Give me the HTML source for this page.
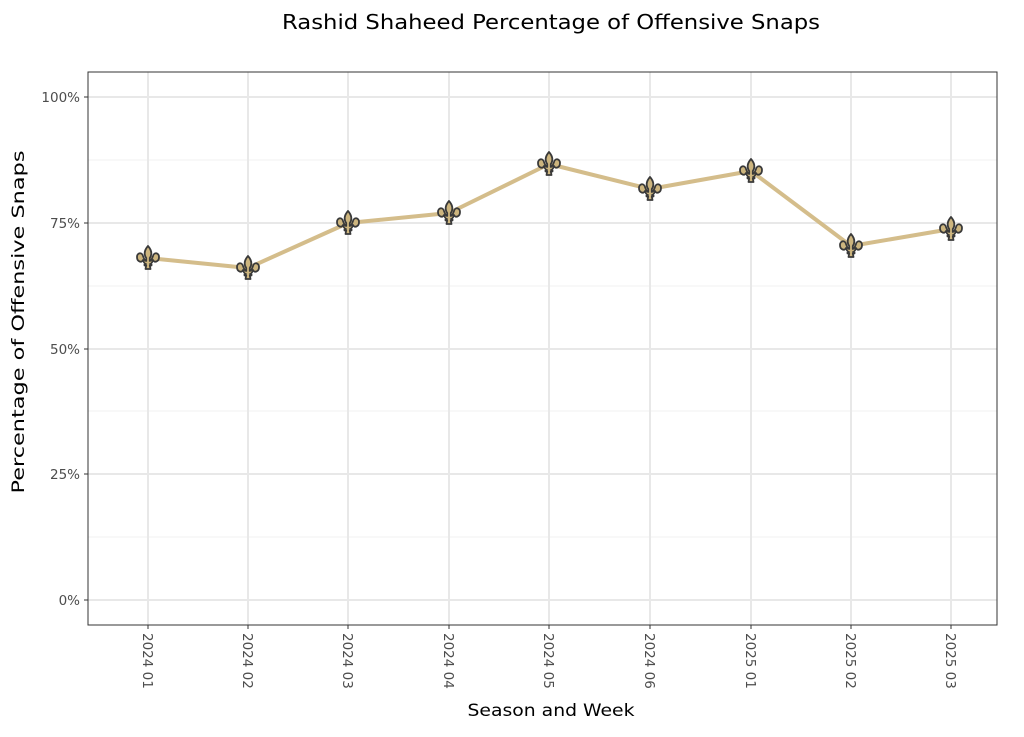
<!DOCTYPE html>
<html><head><meta charset="utf-8"><style>
body{margin:0;background:#fff;}
svg text{font-family:"DejaVu Sans","Liberation Sans",sans-serif;}
</style></head><body>
<svg width="1024" height="732" viewBox="0 0 1024 732" xmlns="http://www.w3.org/2000/svg">
<defs>
<g id="fdl">
<path d="M0,-12 C3.5,-8 4.5,-4 1.8,0 L1.8,3 C3,3 4,1 5,-2 C6,-6 11,-5.5 11,-1 C11,4 6,5 5,2 C4,5 3,6 2,6 L3.5,6 L3.5,7.5 L1.8,7.5 L2.5,11 L-2.5,11 L-1.8,7.5 L-3.5,7.5 L-3.5,6 L-2,6 C-3,6 -4,5 -5,2 C-6,5 -11,4 -11,-1 C-11,-5.5 -6,-6 -5,-2 C-4,1 -3,3 -1.8,3 L-1.8,0 C-4.5,-4 -3.5,-8 0,-12 Z" fill="#cdb57e" stroke="#3a3a3a" stroke-width="1.8" stroke-linejoin="round"/>
</g>
</defs>
<text x="551" y="29" font-size="20" text-anchor="middle" fill="#000" textLength="538" lengthAdjust="spacingAndGlyphs">Rashid Shaheed Percentage of Offensive Snaps</text>
<g stroke="#f0f0f0" stroke-width="1">
<line x1="88" x2="997" y1="160" y2="160"/><line x1="88" x2="997" y1="286" y2="286"/><line x1="88" x2="997" y1="411" y2="411"/><line x1="88" x2="997" y1="537" y2="537"/>
</g>
<g stroke="#e8e8e8" stroke-width="2">
<line x1="88" x2="997" y1="97" y2="97"/><line x1="88" x2="997" y1="223" y2="223"/><line x1="88" x2="997" y1="349" y2="349"/><line x1="88" x2="997" y1="474" y2="474"/><line x1="88" x2="997" y1="600" y2="600"/>
<line x1="148" x2="148" y1="72" y2="625"/><line x1="248" x2="248" y1="72" y2="625"/><line x1="348" x2="348" y1="72" y2="625"/><line x1="449" x2="449" y1="72" y2="625"/><line x1="549" x2="549" y1="72" y2="625"/><line x1="650" x2="650" y1="72" y2="625"/><line x1="751" x2="751" y1="72" y2="625"/><line x1="851" x2="851" y1="72" y2="625"/><line x1="951" x2="951" y1="72" y2="625"/>
</g>
<rect x="88" y="72" width="909" height="553" fill="none" stroke="#333" stroke-width="1"/>
<g stroke="#333"><line x1="84" x2="88" y1="97" y2="97"/><line x1="84" x2="88" y1="223" y2="223"/><line x1="84" x2="88" y1="349" y2="349"/><line x1="84" x2="88" y1="474" y2="474"/><line x1="84" x2="88" y1="600" y2="600"/>
<line x1="148" x2="148" y1="625" y2="629"/><line x1="248" x2="248" y1="625" y2="629"/><line x1="348" x2="348" y1="625" y2="629"/><line x1="449" x2="449" y1="625" y2="629"/><line x1="549" x2="549" y1="625" y2="629"/><line x1="650" x2="650" y1="625" y2="629"/><line x1="751" x2="751" y1="625" y2="629"/><line x1="851" x2="851" y1="625" y2="629"/><line x1="951" x2="951" y1="625" y2="629"/></g>
<g font-size="13.5" fill="#4d4d4d" text-anchor="end">
<text x="80" y="102">100%</text><text x="80" y="228">75%</text><text x="80" y="354">50%</text><text x="80" y="479">25%</text><text x="80" y="605">0%</text>
</g>
<g font-size="13.5" fill="#4d4d4d">
<text transform="translate(143,633) rotate(90)">2024 01</text>
<text transform="translate(243,633) rotate(90)">2024 02</text>
<text transform="translate(343,633) rotate(90)">2024 03</text>
<text transform="translate(444,633) rotate(90)">2024 04</text>
<text transform="translate(544,633) rotate(90)">2024 05</text>
<text transform="translate(645,633) rotate(90)">2024 06</text>
<text transform="translate(746,633) rotate(90)">2025 01</text>
<text transform="translate(846,633) rotate(90)">2025 02</text>
<text transform="translate(946,633) rotate(90)">2025 03</text>
</g>
<text x="551" y="716" font-size="17" text-anchor="middle" textLength="167" lengthAdjust="spacingAndGlyphs">Season and Week</text>
<text transform="translate(24,322) rotate(-90)" font-size="17" text-anchor="middle" textLength="343" lengthAdjust="spacingAndGlyphs">Percentage of Offensive Snaps</text>
<polyline points="148,258 248,268 348,223 449,213 549,164 650,189 751,171 851,246 951,229" fill="none" stroke="#d4bd8b" stroke-width="4" stroke-linejoin="round"/>
<use href="#fdl" x="148" y="258"/><use href="#fdl" x="248" y="268"/><use href="#fdl" x="348" y="223"/><use href="#fdl" x="449" y="213"/><use href="#fdl" x="549" y="164"/><use href="#fdl" x="650" y="189"/><use href="#fdl" x="751" y="171"/><use href="#fdl" x="851" y="246"/><use href="#fdl" x="951" y="229"/>
</svg>
</body></html>
